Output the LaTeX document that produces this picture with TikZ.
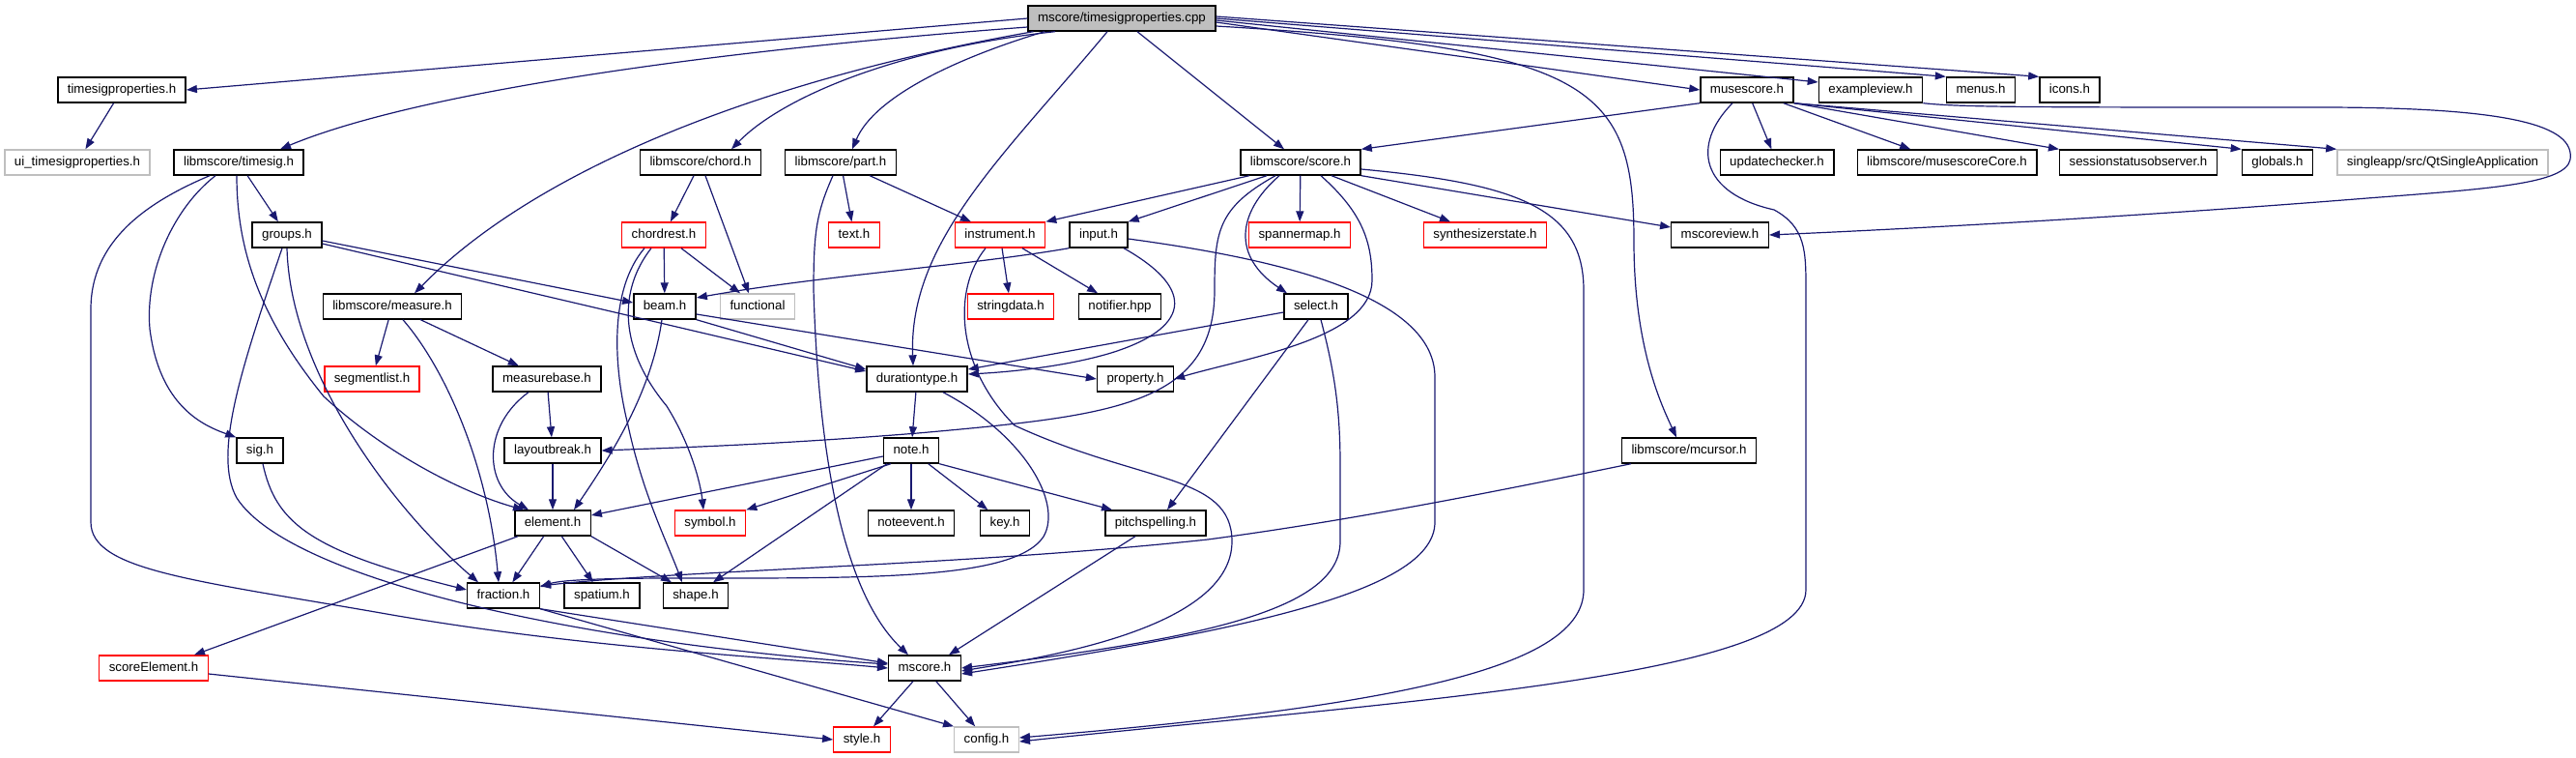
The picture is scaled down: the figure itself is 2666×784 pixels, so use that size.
\documentclass[tikz,border=0pt]{standalone}
\usepackage{fontspec}
\newfontfamily\depfont{Liberation Sans}
\usetikzlibrary{arrows.meta}

\definecolor{navyblue}{HTML}{191970}
\definecolor{grey75}{HTML}{BFBFBF}

\tikzset{
  file/.style={draw=black, fill=white, line width=1.4pt, rectangle,
    inner xsep=10pt, inner ysep=0pt, minimum height=26pt,
    text height=10pt, text depth=3pt,
    font=\depfont\fontsize{13.3}{16}\selectfont},
  mainfile/.style={file, fill=grey75},
  truncfile/.style={file, draw=red},
  nodocfile/.style={file, draw=grey75},
  dep/.style={draw=navyblue, line width=1.2pt, -{Triangle[length=11pt,width=8pt]}},
}

\begin{document}
\begin{tikzpicture}[x=1pt,y=-1pt]
\useasboundingbox (0,0) rectangle (2666,784);

\node[mainfile] (cpp) at (1161,19) {mscore/timesigproperties.cpp};

\node[file] (tsph) at (126,93) {timesigproperties.h};
\node[file] (musescore) at (1808,93) {musescore.h};
\node[file] (exview) at (1936,93) {exampleview.h};
\node[file] (menus) at (2050,93) {menus.h};
\node[file] (icons) at (2142,93) {icons.h};

\node[nodocfile] (uitsp) at (80,168) {ui\_timesigproperties.h};
\node[file] (timesig) at (247,168) {libmscore/timesig.h};
\node[file] (chord) at (725,168) {libmscore/chord.h};
\node[file] (part) at (870,168) {libmscore/part.h};
\node[file] (score) at (1346,168) {libmscore/score.h};
\node[file] (updchk) at (1839,168) {updatechecker.h};
\node[file] (msccore) at (2015,168) {libmscore/musescoreCore.h};
\node[file] (sessobs) at (2213,168) {sessionstatusobserver.h};
\node[file] (globals) at (2357,168) {globals.h};
\node[nodocfile] (qtsingle) at (2528,168) {singleapp/src/QtSingleApplication};

\node[file] (groups) at (297,243) {groups.h};
\node[truncfile] (chordrest) at (687,243) {chordrest.h};
\node[truncfile] (texth) at (884,243) {text.h};
\node[truncfile] (instrument) at (1035,243) {instrument.h};
\node[file] (input) at (1137,243) {input.h};
\node[truncfile] (spannermap) at (1345,243) {spannermap.h};
\node[truncfile] (synth) at (1537,243) {synthesizerstate.h};
\node[file] (mscoreview) at (1780,243) {mscoreview.h};

\node[file] (measure) at (406,317) {libmscore/measure.h};
\node[file] (beam) at (688,317) {beam.h};
\node[nodocfile] (functional) at (784,317) {functional};
\node[truncfile] (stringdata) at (1046,317) {stringdata.h};
\node[file] (notifier) at (1159,317) {notifier.hpp};
\node[file] (select) at (1362,317) {select.h};

\node[truncfile] (segmentlist) at (385,392) {segmentlist.h};
\node[file] (measurebase) at (566,392) {measurebase.h};
\node[file] (durationtype) at (949,392) {durationtype.h};
\node[file] (property) at (1175,392) {property.h};

\node[file] (sig) at (269,466) {sig.h};
\node[file] (layoutbreak) at (572,466) {layoutbreak.h};
\node[file] (note) at (943,466) {note.h};
\node[file] (mcursor) at (1748,466) {libmscore/mcursor.h};

\node[file] (element) at (572,541) {element.h};
\node[truncfile] (symbol) at (735,541) {symbol.h};
\node[file] (noteevent) at (943,541) {noteevent.h};
\node[file] (key) at (1040,541) {key.h};
\node[file] (pitch) at (1196,541) {pitchspelling.h};

\node[file] (fraction) at (521,616) {fraction.h};
\node[file] (spatium) at (623,616) {spatium.h};
\node[file] (shape) at (720,616) {shape.h};

\node[truncfile] (scoreel) at (159,691) {scoreElement.h};
\node[file] (mscoreh) at (957,691) {mscore.h};

\node[truncfile] (style) at (892,765) {style.h};
\node[nodocfile] (config) at (1021,765) {config.h};

% includes of the .cpp
\draw [dep] (cpp.west) to (tsph.east);
\draw [dep] ([yshift=-9pt]cpp.west) .. controls (700,55) and (420,100) .. ([xshift=43pt]timesig.north);
\draw [dep] ([xshift=6pt]cpp.south west) .. controls (800,80) and (560,170) .. ([xshift=23pt]measure.north);
\draw [dep] ([xshift=-69pt]cpp.south) .. controls (930,50) and (810,100) .. ([xshift=32pt]chord.north);
\draw [dep] ([xshift=-80pt]cpp.south) .. controls (990,60) and (905,100) .. ([xshift=12pt]part.north);
\draw [dep] ([xshift=-15pt]cpp.south) .. controls (1040,160) and (940,250) .. ([xshift=-4pt]durationtype.north);
\draw [dep] ([xshift=16pt]cpp.south) to ([xshift=-17pt]score.north);
\draw [dep] ([yshift=-4pt]cpp.east) to (musescore.west);
\draw [dep] ([yshift=-2pt]cpp.east) to ([yshift=8pt]exview.west);
\draw [dep] (cpp.east) to (menus.north west);
\draw [dep] ([yshift=2pt]cpp.east) to (icons.north west);
\draw [dep] ([yshift=-8pt]cpp.east) .. controls (1650,50) and (1691,90) .. (1691,250) .. controls (1691,360) and (1720,420) .. ([xshift=-13pt]mcursor.north);

% musescore.h
\draw [dep] (musescore.south west) to (score.north east);
\draw [dep] (musescore) to (updchk);
\draw [dep] (musescore) to (msccore);
\draw [dep] (musescore.south east) to (sessobs.north west);
\draw [dep] (musescore.south east) to (globals.north west);
\draw [dep] (musescore.south east) to (qtsingle.north west);
\draw [dep] ([xshift=-15pt]musescore.south) .. controls (1750,150) and (1760,200) .. (1836,217) .. controls (1869,235) and (1869,260) .. (1869,300) to (1869,610) .. controls (1869,700) and (1450,725) .. ([yshift=-2pt]config.east);
\draw [dep] (exview.south east) .. controls (2030,111) and (2100,111) .. (2400,111) .. controls (2600,111) and (2665,130) .. (2660,165) .. controls (2655,190) and (2580,195) .. (2450,205) .. controls (2200,225) and (1950,238) .. (mscoreview.east);

% libmscore/score.h
\draw [dep] ([xshift=-53pt]score.south) to (instrument.north east);
\draw [dep] ([xshift=-35pt]score.south) to (input.north east);
\draw [dep] (score) to (spannermap);
\draw [dep] ([xshift=32pt]score.south) to ([xshift=-36pt]synth.north);
\draw [dep] (score.south east) to ([yshift=8pt]mscoreview.west);
\draw [dep] ([xshift=-22pt]score.south) .. controls (1280,220) and (1275,265) .. ([xshift=-30pt]select.north);
\draw [dep] ([xshift=-26pt]score.south) .. controls (1260,215) and (1257,240) .. (1257,300) .. controls (1257,420) and (1150,430) .. (950,448) .. controls (800,460) and (700,463) .. (layoutbreak.east);
\draw [dep] ([xshift=21pt]score.south) .. controls (1410,220) and (1420,250) .. (1420,290) .. controls (1420,350) and (1290,370) .. (property.east);
\draw [dep] ([yshift=-7pt]score.east) .. controls (1570,190) and (1639,215) .. (1639,300) to (1639,610) .. controls (1639,690) and (1450,730) .. ([yshift=2pt]config.east);

\draw [dep] (chord) to (chordrest);
\draw [dep] ([xshift=5pt]chord.south) to ([xshift=-9pt]functional.north);
\draw [dep] (part) to (texth);
\draw [dep] (part) to (instrument);
\draw [dep] ([xshift=-8pt]part.south) .. controls (845,220) and (842,240) .. (842,300) .. controls (848,500) and (880,620) .. ([xshift=-17pt]mscoreh.north);
\draw [dep] (tsph) to (uitsp);

% libmscore/timesig.h
\draw [dep] (timesig) to (groups);
\draw [dep] ([xshift=-24pt]timesig.south) .. controls (180,215) and (150,280) .. (155,340) .. controls (165,420) and (210,440) .. (sig.north west);
\draw [dep] ([xshift=-2pt]timesig.south) .. controls (245,260) and (270,330) .. (335,410) .. controls (400,470) and (480,510) .. ([xshift=-30pt]element.north);
\draw [dep] ([xshift=-30pt]timesig.south) .. controls (150,210) and (94,250) .. (94,320) to (94,540) .. controls (94,590) and (200,600) .. (400,635) .. controls (600,670) and (800,680) .. (mscoreh.west);

\draw [dep] ([yshift=-6pt]groups.east) to ([yshift=4pt]beam.west);
\draw [dep] ([yshift=-9pt]groups.east) to ([yshift=8pt]durationtype.west);
\draw [dep] (groups.south) .. controls (300,380) and (400,520) .. ([xshift=-26pt]fraction.north);
\draw [dep] ([xshift=-5pt]groups.south) .. controls (250,380) and (220,470) .. (245,515) .. controls (300,600) and (600,665) .. ([yshift=4pt]mscoreh.west);

\draw [dep] (measure) to (segmentlist);
\draw [dep] (measure) to (measurebase);
\draw [dep] ([xshift=11pt]measure.south) .. controls (460,380) and (505,480) .. ([xshift=-5pt]fraction.north);
\draw [dep] (measurebase) to (layoutbreak);
\draw [dep] ([xshift=-19pt]measurebase.south) .. controls (500,440) and (500,500) .. ([xshift=-25pt]element.north);
\draw [dep] (layoutbreak) to (element);

\draw [dep] ([xshift=-3pt]beam.south) .. controls (675,400) and (640,460) .. ([xshift=22pt]element.north);
\draw [dep] (beam.south east) to ([yshift=10pt]durationtype.west);
\draw [dep] ([yshift=-8pt]beam.east) to (property.west);

\draw [dep] (chordrest) to (beam);
\draw [dep] (chordrest) to (functional);
\draw [dep] ([xshift=-13pt]chordrest.south) .. controls (640,300) and (640,360) .. (690,420) .. controls (715,460) and (725,500) .. ([xshift=-7pt]symbol.north);
\draw [dep] ([xshift=-20pt]chordrest.south) .. controls (630,300) and (635,380) .. (650,440) .. controls (665,510) and (690,560) .. ([xshift=-14pt]shape.north);

\draw [dep] (instrument) to (stringdata);
\draw [dep] (instrument) to (notifier);
\draw [dep] ([xshift=-15pt]instrument.south) .. controls (985,300) and (990,380) .. (1050,440) .. controls (1180,500) and (1275,490) .. (1275,560) .. controls (1275,650) and (1080,680) .. ([yshift=-3pt]mscoreh.east);

\draw [dep] (input.south west) .. controls (1000,275) and (850,285) .. ([yshift=9pt]beam.east);
\draw [dep] ([xshift=26pt]input.south) .. controls (1240,300) and (1230,340) .. (1150,365) .. controls (1100,380) and (1040,385) .. ([yshift=5pt]durationtype.east);
\draw [dep] ([yshift=-4pt]input.east) .. controls (1300,265) and (1485,300) .. (1485,390) to (1485,540) .. controls (1485,610) and (1300,650) .. ([yshift=-6pt]mscoreh.east);

\draw [dep] ([yshift=-6pt]select.west) to ([yshift=10pt]durationtype.east);
\draw [dep] ([xshift=-8pt]select.south) to ([xshift=12pt]pitch.north);
\draw [dep] ([xshift=5pt]select.south) .. controls (1380,380) and (1387,420) .. (1387,480) to (1387,560) .. controls (1387,630) and (1250,660) .. (mscoreh.east);

\draw [dep] (durationtype) to (note);
\draw [dep] ([xshift=27pt]durationtype.south) .. controls (1060,450) and (1100,520) .. (1080,555) .. controls (1050,600) and (900,598) .. (700,598) .. controls (620,598) and (580,600) .. ([yshift=9pt]fraction.east);

% note.h
\draw [dep] ([yshift=-6pt]note.west) to ([yshift=8pt]element.east);
\draw [dep] ([xshift=-21pt]note.south) to (symbol.north east);
\draw [dep] ([xshift=-25pt]note.south) to ([xshift=18pt]shape.north);
\draw [dep] (note) to (noteevent);
\draw [dep] (note) to (key);
\draw [dep] (note.south east) to ([xshift=-45pt]pitch.north);

% element.h and below
\draw [dep] (element) to (fraction);
\draw [dep] (element) to (spatium);
\draw [dep] (element.south east) to ([xshift=-25pt]shape.north);
\draw [dep] ([xshift=-36pt]element.south) to ([xshift=42pt]scoreel.north);
\draw [dep] ([xshift=3pt]sig.south) .. controls (285,540) and (320,570) .. ([yshift=6pt]fraction.west);
\draw [dep] ([xshift=-60pt]mcursor.south) .. controls (1550,508) and (1400,538) .. (1250,558) .. controls (1000,585) and (700,590) .. ([yshift=10pt]fraction.east);
\draw [dep] (fraction.south east) to ([yshift=5pt]mscoreh.west);
\draw [dep] (fraction.south east) to (config.north west);
\draw [dep] ([xshift=-21pt]pitch.south) to ([xshift=25pt]mscoreh.north);
\draw [dep] (mscoreh) to (style);
\draw [dep] (mscoreh) to (config);
\draw [dep] ([yshift=-6pt]scoreel.east) to (style.west);
\end{tikzpicture}
\end{document}
